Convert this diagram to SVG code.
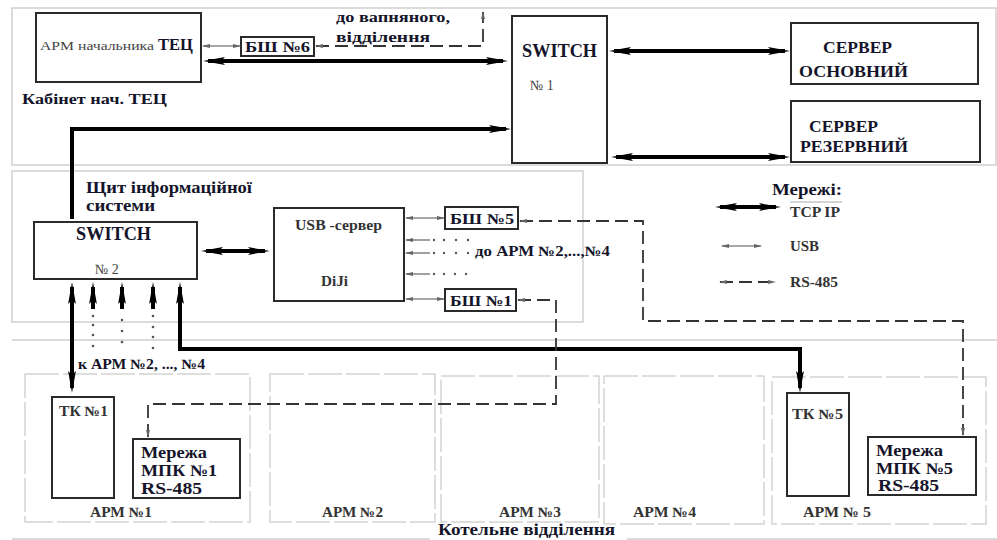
<svg xmlns="http://www.w3.org/2000/svg" width="997" height="540" viewBox="0 0 997 540">
<style>
.panel{fill:none;stroke:#cfcfcf;stroke-width:1.5}
.area{fill:none;stroke:#d4d4d4;stroke-width:1.5;stroke-dasharray:34 4}
.box{fill:#fff;stroke:#2a2a2a;stroke-width:2}
.tcp{fill:none;stroke:#000;stroke-width:4}
.usb{fill:none;stroke:#8a8a8a;stroke-width:1.6}
.rs{fill:none;stroke:#333;stroke-width:1.8;stroke-dasharray:13 6}
.dot{fill:#555}
.t{font-family:"Liberation Serif","DejaVu Serif",serif;font-weight:bold;fill:#14142a}
.g{font-family:"Liberation Serif","DejaVu Serif",serif;fill:#444}
.gb{font-family:"Liberation Serif","DejaVu Serif",serif;font-weight:bold;fill:#333}
</style>
<defs>
<marker id="tcp" markerUnits="userSpaceOnUse" viewBox="0 0 22 9" markerWidth="22" markerHeight="9" refX="17" refY="4.5" orient="auto-start-reverse">
<path d="M0,0.6 L22,4.5 L0,8.4 L4,4.5 z" fill="#000"/>
</marker>
<marker id="usb" markerUnits="userSpaceOnUse" viewBox="0 0 8 5" markerWidth="8" markerHeight="5" refX="7" refY="2.5" orient="auto-start-reverse">
<path d="M0,0.5 L8,2.5 L0,4.5 z" fill="#666"/>
</marker>
</defs>

<g id="panels">
<rect class="panel" x="12" y="8" width="984" height="157"/>
<rect class="panel" x="12" y="171" width="571" height="151"/>
<line class="panel" x1="12" y1="340" x2="997" y2="340"/>
<line class="panel" x1="12" y1="539" x2="430" y2="539"/>
<line class="panel" x1="627" y1="539" x2="997" y2="539"/>
</g>

<g id="areas">
<g id="area-arm1"><rect class="area" x="25" y="374" width="225" height="148"/><text class="gb" x="90" y="517" font-size="14" textLength="62" lengthAdjust="spacingAndGlyphs">АРМ №1</text></g>
<g id="area-arm2"><rect class="area" x="270" y="374" width="165" height="148"/><text class="gb" x="322" y="517" font-size="14" textLength="61" lengthAdjust="spacingAndGlyphs">АРМ №2</text></g>
<g id="area-arm3"><rect class="area" x="441" y="376" width="158" height="146"/><text class="gb" x="499" y="517" font-size="14" textLength="62" lengthAdjust="spacingAndGlyphs">АРМ №3</text></g>
<g id="area-arm4"><rect class="area" x="604" y="376" width="160" height="148"/><text class="gb" x="633" y="517" font-size="14" textLength="63" lengthAdjust="spacingAndGlyphs">АРМ №4</text></g>
<g id="area-arm5"><rect class="area" x="772" y="377" width="214" height="147"/><text class="gb" x="803" y="517" font-size="14" textLength="68" lengthAdjust="spacingAndGlyphs">АРМ № 5</text></g>
</g>

<g id="labels">
<text class="t" x="22" y="104" font-size="15" textLength="145" lengthAdjust="spacingAndGlyphs">Кабінет нач. ТЕЦ</text>
<text class="t" x="336" y="22" font-size="15" textLength="114" lengthAdjust="spacingAndGlyphs">до вапняного,</text>
<text class="t" x="336" y="42" font-size="15" textLength="94" lengthAdjust="spacingAndGlyphs">відділення</text>
<text class="t" x="86" y="193" font-size="16" textLength="166" lengthAdjust="spacingAndGlyphs">Щит інформаційної</text>
<text class="t" x="86" y="211" font-size="16" textLength="69" lengthAdjust="spacingAndGlyphs">системи</text>
<text class="t" x="475" y="256" font-size="14" textLength="135" lengthAdjust="spacingAndGlyphs">до АРМ №2,...,№4</text>
<text class="t" x="78" y="369" font-size="14" textLength="127" lengthAdjust="spacingAndGlyphs">к АРМ №2, ..., №4</text>
<text class="t" x="438" y="535" font-size="16" textLength="177" lengthAdjust="spacingAndGlyphs">Котельне відділення</text>
</g>

<g id="legend">
<text class="t" x="772" y="195" font-size="16" textLength="70" lengthAdjust="spacingAndGlyphs">Мережі:</text>
<line x1="790" y1="202" x2="842" y2="202" stroke="#aaa" stroke-width="1"/>
<line class="tcp" x1="720" y1="207" x2="776" y2="207" marker-start="url(#tcp)" marker-end="url(#tcp)"/>
<text class="gb" x="790" y="217" font-size="14" textLength="50" lengthAdjust="spacingAndGlyphs">TCP IP</text>
<line class="usb" x1="722" y1="246" x2="761" y2="246" marker-start="url(#usb)" marker-end="url(#usb)"/>
<text class="gb" x="790" y="251" font-size="14" textLength="29" lengthAdjust="spacingAndGlyphs">USB</text>
<line class="rs" x1="720" y1="282" x2="775" y2="282" stroke-dasharray="10 3 4 3" marker-start="url(#usb)" marker-end="url(#usb)"/>
<text class="gb" x="790" y="287" font-size="14" textLength="48" lengthAdjust="spacingAndGlyphs">RS-485</text>
</g>

<g id="n-arm-chief">
<rect class="box" x="36" y="13" width="165" height="69"/>
<text class="g" x="40" y="50" font-size="12" textLength="114" lengthAdjust="spacingAndGlyphs">АРМ начальника</text>
<text class="t" x="158" y="50" font-size="17" textLength="35" lengthAdjust="spacingAndGlyphs">ТЕЦ</text>
</g>
<g id="n-bsh6">
<rect class="box" x="241" y="37" width="73" height="19"/>
<text class="t" x="245" y="52" font-size="15" textLength="65" lengthAdjust="spacingAndGlyphs">БШ №6</text>
</g>
<g id="n-switch1">
<rect class="box" x="512" y="16" width="95" height="147"/>
<text class="t" x="522" y="57" font-size="18" textLength="75" lengthAdjust="spacingAndGlyphs">SWITCH</text>
<text class="g" x="530" y="90" font-size="14">№  1</text>
</g>
<g id="n-server-main">
<rect class="box" x="791" y="23" width="187" height="61"/>
<text class="t" x="823" y="53" font-size="17" textLength="69" lengthAdjust="spacingAndGlyphs">СЕРВЕР</text>
<text class="t" x="799" y="77" font-size="17" textLength="109" lengthAdjust="spacingAndGlyphs">ОСНОВНИЙ</text>
</g>
<g id="n-server-reserve">
<rect class="box" x="791" y="101" width="189" height="61" stroke-width="2.6"/>
<text class="t" x="809" y="132" font-size="17" textLength="69" lengthAdjust="spacingAndGlyphs">СЕРВЕР</text>
<text class="t" x="800" y="152" font-size="17" textLength="108" lengthAdjust="spacingAndGlyphs">РЕЗЕРВНИЙ</text>
</g>
<g id="n-switch2">
<rect class="box" x="34" y="222" width="163" height="57"/>
<text class="t" x="76" y="240" font-size="18" textLength="75" lengthAdjust="spacingAndGlyphs">SWITCH</text>
<text class="g" x="95" y="274" font-size="14">№ 2</text>
</g>
<g id="n-usb-server">
<rect class="box" x="274" y="208" width="130" height="93"/>
<text class="gb" x="295" y="230" font-size="14" textLength="87" lengthAdjust="spacingAndGlyphs">USB -сервер</text>
<text class="gb" x="321" y="286" font-size="14" textLength="27" lengthAdjust="spacingAndGlyphs">DiJi</text>
</g>
<g id="n-bsh5">
<rect class="box" x="445" y="207" width="73" height="22"/>
<text class="t" x="450" y="224" font-size="15" textLength="64" lengthAdjust="spacingAndGlyphs">БШ №5</text>
</g>
<g id="n-bsh1">
<rect class="box" x="445" y="289" width="71" height="22"/>
<text class="t" x="450" y="306" font-size="15" textLength="62" lengthAdjust="spacingAndGlyphs">БШ №1</text>
</g>
<g id="n-tk1">
<rect class="box" x="52" y="397" width="62" height="101"/>
<text class="gb" x="59" y="416" font-size="14" textLength="49" lengthAdjust="spacingAndGlyphs">ТК №1</text>
</g>
<g id="n-mpk1">
<rect class="box" x="133" y="439" width="107" height="59"/>
<text class="t" x="141" y="458" font-size="16" textLength="66" lengthAdjust="spacingAndGlyphs">Мережа</text>
<text class="t" x="141" y="476" font-size="16" textLength="76" lengthAdjust="spacingAndGlyphs">МПК №1</text>
<text class="t" x="141" y="494" font-size="16" textLength="61" lengthAdjust="spacingAndGlyphs">RS-485</text>
</g>
<g id="n-tk5">
<rect class="box" x="787" y="393" width="62" height="103"/>
<text class="gb" x="792" y="419" font-size="14" textLength="51" lengthAdjust="spacingAndGlyphs">ТК №5</text>
</g>
<g id="n-mpk5">
<rect class="box" x="868" y="437" width="108" height="58"/>
<text class="t" x="876" y="456" font-size="16" textLength="67" lengthAdjust="spacingAndGlyphs">Мережа</text>
<text class="t" x="876" y="474" font-size="16" textLength="77" lengthAdjust="spacingAndGlyphs">МПК №5</text>
<text class="t" x="878" y="491" font-size="16" textLength="61" lengthAdjust="spacingAndGlyphs">RS-485</text>
</g>

<g id="connectors">
<line class="tcp" x1="208" y1="61" x2="503" y2="61" marker-start="url(#tcp)" marker-end="url(#tcp)"/>
<line class="tcp" x1="614" y1="51" x2="785" y2="51" marker-start="url(#tcp)" marker-end="url(#tcp)"/>
<line class="tcp" x1="616" y1="157" x2="785" y2="157" marker-start="url(#tcp)" marker-end="url(#tcp)"/>
<path class="tcp" d="M72,219 L72,129 L506,129" stroke-width="3.5" marker-end="url(#tcp)"/>
<line class="tcp" x1="206" y1="251" x2="265" y2="251" marker-start="url(#tcp)" marker-end="url(#tcp)"/>
<line class="tcp" x1="72" y1="287" x2="72" y2="388" marker-start="url(#tcp)" marker-end="url(#tcp)"/>
<line class="tcp" x1="93" y1="309" x2="93" y2="287" marker-end="url(#tcp)"/>
<line class="tcp" x1="122" y1="309" x2="122" y2="287" marker-end="url(#tcp)"/>
<line class="tcp" x1="153" y1="309" x2="153" y2="287" marker-end="url(#tcp)"/>
<path class="tcp" d="M180,287 L180,349 L800,349 L800,388" marker-start="url(#tcp)" marker-end="url(#tcp)"/>
<g class="dot">
<circle cx="93" cy="316" r="1.3"/><circle cx="93" cy="325" r="1.3"/><circle cx="93" cy="335" r="1.3"/><circle cx="93" cy="346" r="1.3"/>
<circle cx="122" cy="320" r="1.3"/><circle cx="122" cy="331" r="1.3"/><circle cx="122" cy="342" r="1.3"/>
<circle cx="153" cy="316" r="1.3"/><circle cx="153" cy="327" r="1.3"/><circle cx="153" cy="337" r="1.3"/><circle cx="153" cy="348" r="1.3"/>
</g>
<line class="usb" x1="203" y1="46" x2="240" y2="46" marker-start="url(#usb)" marker-end="url(#usb)"/>
<line class="usb" x1="406" y1="218" x2="444" y2="218" marker-start="url(#usb)" marker-end="url(#usb)"/>
<line class="usb" x1="406" y1="299" x2="444" y2="299" marker-start="url(#usb)" marker-end="url(#usb)"/>
<line class="usb" x1="406" y1="240" x2="430" y2="240" marker-start="url(#usb)"/>
<line class="usb" x1="406" y1="253" x2="430" y2="253" marker-start="url(#usb)"/>
<line class="usb" x1="406" y1="274" x2="430" y2="274" marker-start="url(#usb)"/>
<g class="dot">
<circle cx="434" cy="240" r="1.2"/><circle cx="444" cy="240" r="1.2"/><circle cx="456" cy="240" r="1.2"/><circle cx="468" cy="240" r="1.2"/>
<circle cx="434" cy="253" r="1.2"/><circle cx="444" cy="253" r="1.2"/><circle cx="456" cy="253" r="1.2"/><circle cx="468" cy="253" r="1.2"/>
<circle cx="434" cy="274" r="1.2"/><circle cx="444" cy="274" r="1.2"/><circle cx="455" cy="274" r="1.2"/><circle cx="466" cy="274" r="1.2"/>
</g>
<path class="rs" d="M316,46 L483,46 L483,12" marker-start="url(#usb)" marker-end="url(#usb)"/>
<path class="rs" d="M520,221 L643,221 L643,321 L963,321 L963,435" marker-start="url(#usb)" marker-end="url(#usb)"/>
<path class="rs" d="M518,300 L556,300 L556,404 L148,404 L148,437" marker-start="url(#usb)" marker-end="url(#usb)"/>
</g>
</svg>
